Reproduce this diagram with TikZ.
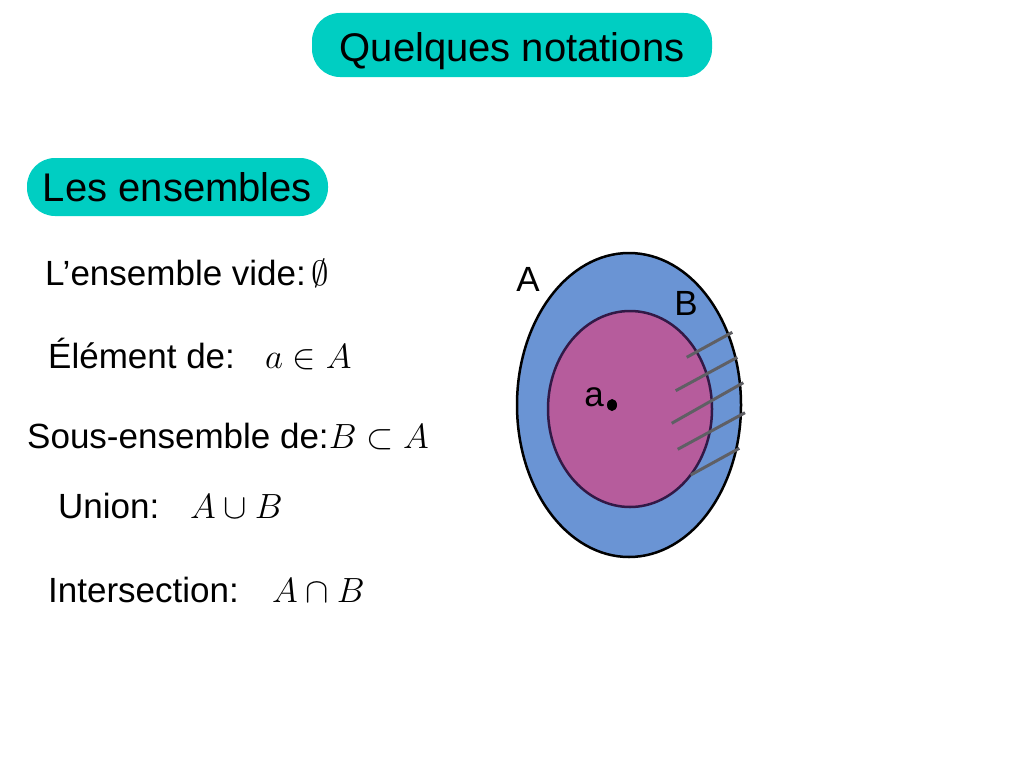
\RequirePackage{fix-cm}
\documentclass[tikz,border=0pt]{standalone}
\usepackage{fontspec}
\setmainfont{Liberation Sans}
\definecolor{turq}{RGB}{0,206,194}
\definecolor{setA}{RGB}{106,148,212}
\definecolor{setB}{RGB}{182,92,156}
\definecolor{edgeB}{RGB}{50,25,70}
\definecolor{hatch}{RGB}{95,95,100}
\begin{document}
\begin{tikzpicture}[x=1pt,y=-1pt,
  titlebox/.style={fill=turq, rounded corners=28pt, inner sep=0pt, font=\fontsize{40}{46}\selectfont},
  item/.style={anchor=base west, inner sep=0pt, font=\fontsize{35}{41}\selectfont},
  lbl/.style={inner sep=0pt, font=\fontsize{35}{41}\selectfont},
  hatchline/.style={draw=hatch, line width=3pt}]
\useasboundingbox (0,0) rectangle (1024,768);
\node[titlebox, minimum width=400pt, minimum height=64pt, text height=34pt, text depth=0pt] (title) at (512,45) {Quelques notations};
\node[titlebox, minimum width=301pt, minimum height=58pt] (sets) at (177.5,187) {Les ensembles};

\node[item] (vide) at (45,285) {L’ensemble vide:\,$\emptyset$};
\node[item] (elem) at (48,368) {Élément de:};
\node[item] (elemm) at (265,368) {$a\in A$};
\node[item] (sous) at (27,448) {Sous-ensemble de:$B\subset A$};
\node[item] (union) at (58,518) {Union:};
\node[item] (unionm) at (190,518) {$A\cup B$};
\node[item] (inter) at (48,602) {Intersection:};
\node[item] (interm) at (272,602) {$A\cap B$};

\draw[fill=setA, line width=2.5pt] (629,405) ellipse [x radius=112, y radius=152];
\draw[fill=setB, draw=edgeB, line width=2.5pt] (630,409) ellipse [x radius=82, y radius=98];

\draw[hatchline] (686.7,357.3) -- (732.3,332.3);
\draw[hatchline] (675.7,390.7) -- (737.3,357.3);
\draw[hatchline] (671.7,423.3) -- (743.3,382.7);
\draw[hatchline] (677.7,449.3) -- (745,412.7);
\draw[hatchline] (690.7,475) -- (739.3,448.3);

\node[lbl] (labA) at (528,279) {A};
\node[lbl] (labB) at (686,303) {B};
\node[lbl] (laba) at (594,397) {a};
\fill (612,405) ellipse [x radius=5, y radius=6];
\end{tikzpicture}
\end{document}
